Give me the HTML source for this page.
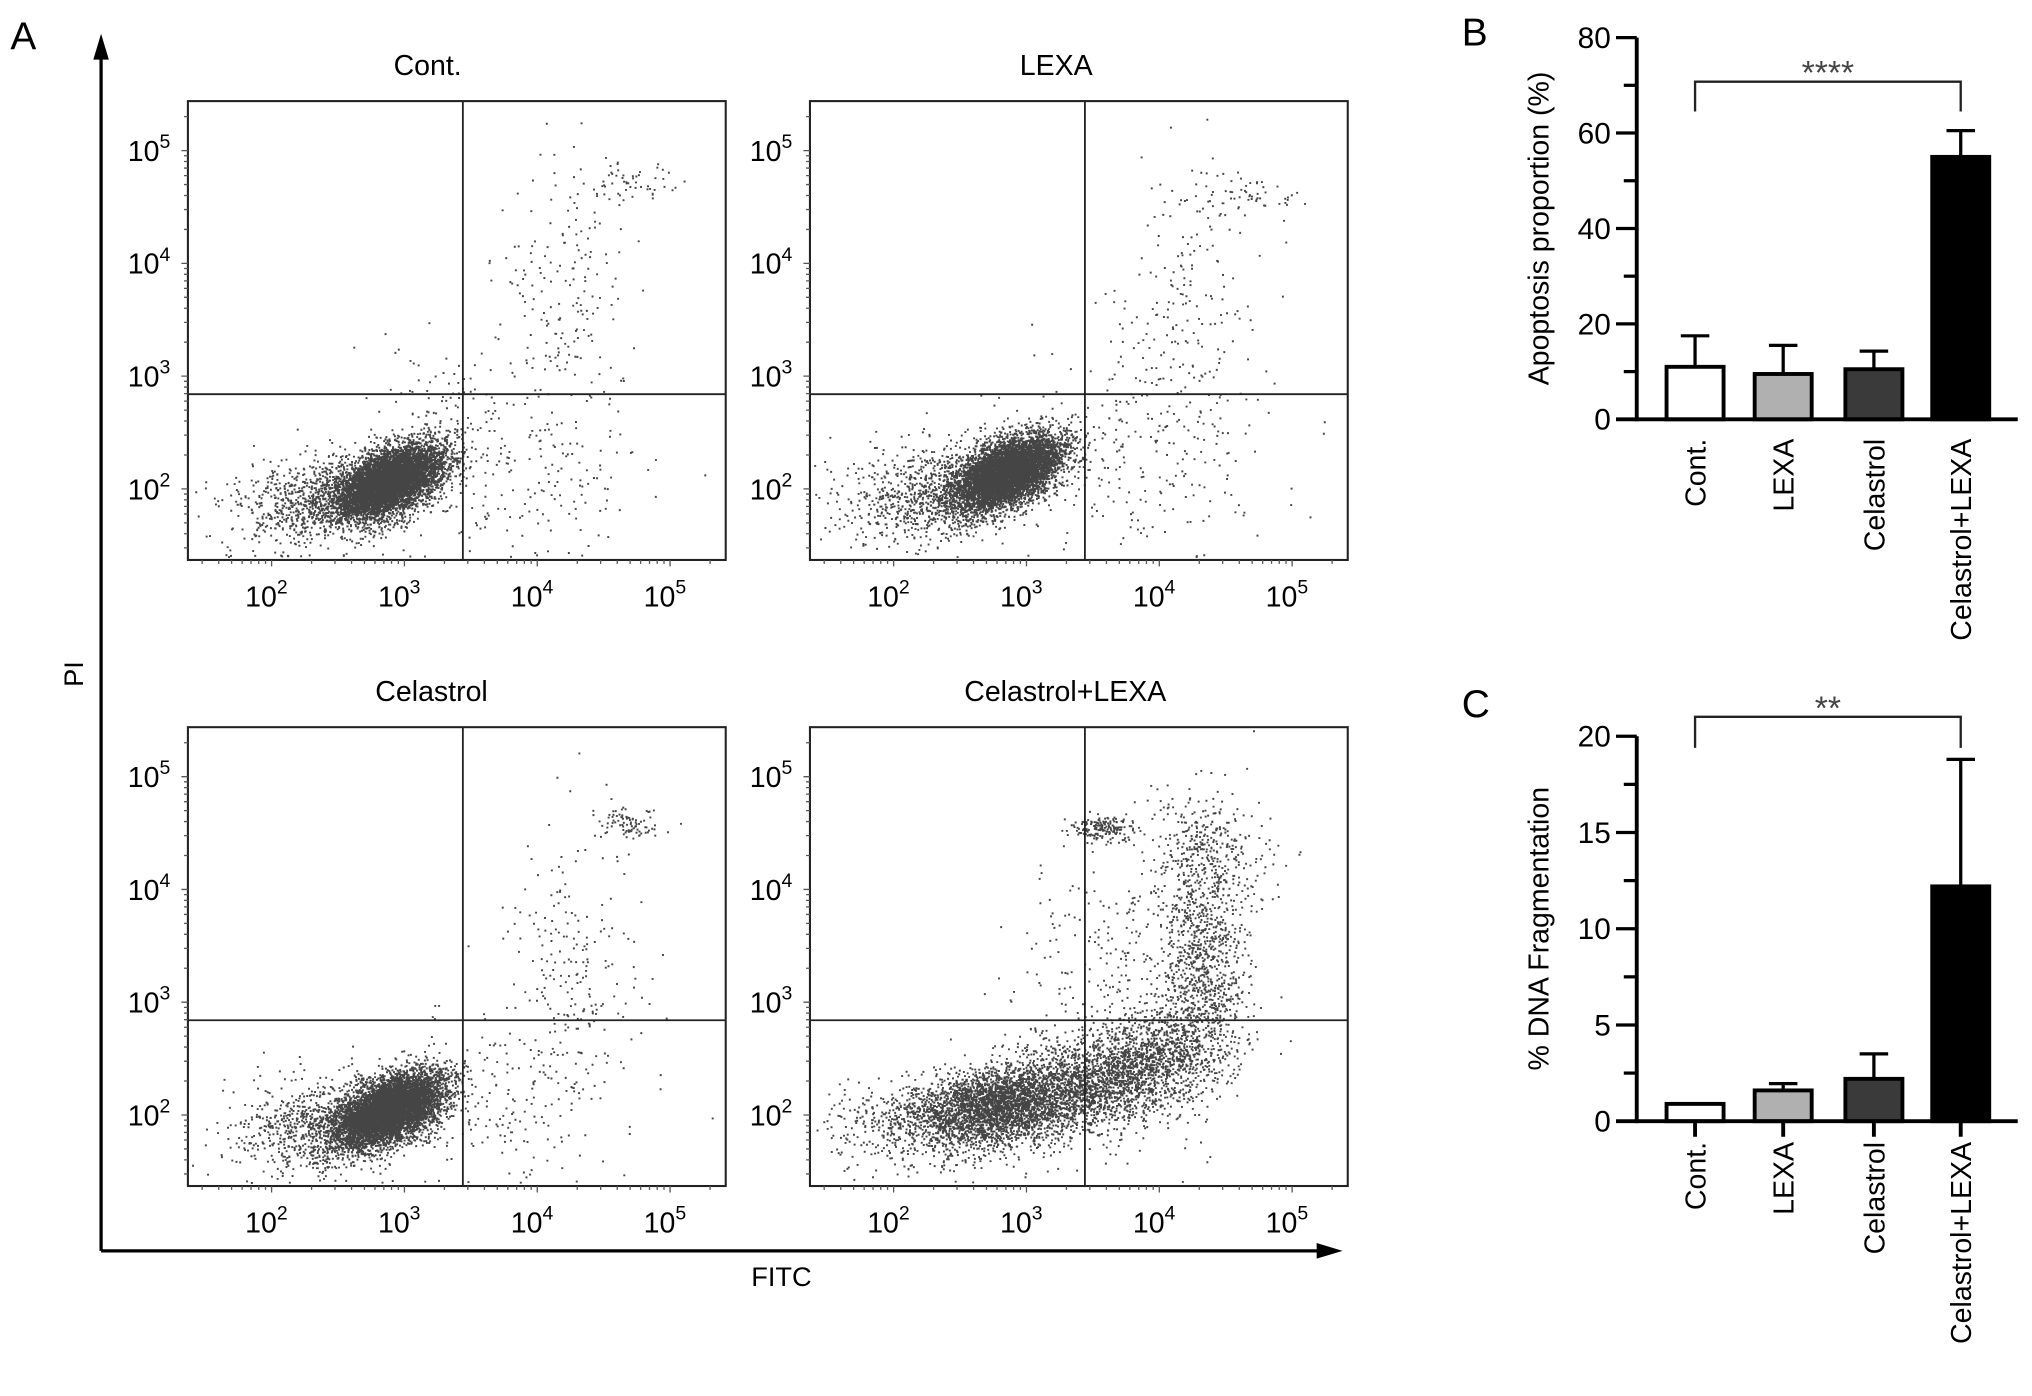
<!DOCTYPE html>
<html><head><meta charset="utf-8"><style>
html,body{margin:0;padding:0;background:#fff;}
svg{display:block;font-family:"Liberation Sans",Arial,sans-serif;}
</style></head><body>
<svg id="fig" width="2032" height="1396" viewBox="0 0 1568 1077" preserveAspectRatio="none">
<g id="panelA">
<text x="8" y="38" font-size="30">A</text>
<line x1="78" y1="965" x2="78" y2="40" stroke="#000" stroke-width="2.5"/>
<polygon points="78,26 72,46 84,46" fill="#000"/>
<line x1="78" y1="965" x2="1020" y2="965" stroke="#000" stroke-width="2.5"/>
<polygon points="1036,965 1016,959 1016,971" fill="#000"/>
<text x="64" y="520" font-size="21" transform="rotate(-90 64 520)" text-anchor="middle">PI</text>
<text x="603" y="992" font-size="21" text-anchor="middle">FITC</text>
</g>
<g id="panelB"></g>
<g id="panelC"></g>
</svg>
<script>
// ---------- Flow cytometry data (log10 cluster parameters) ----------
const panelTitles = ["Cont.", "LEXA", "Celastrol", "Celastrol+LEXA"];
// each cluster: [centerLogX, centerLogY, sdX, sdY, count, correlation]
const contClusters = [[2.88,2.07,0.2,0.16,6800,0.5],[2.35,1.9,0.33,0.2,900,0.2],[3.8,2.2,0.5,0.4,220,0],[4.2,3.7,0.25,0.55,170,0],[4.65,4.7,0.18,0.1,60,0],[3.3,2.8,0.25,0.3,80,0]];
const lexaClusters = [[2.85,2.15,0.2,0.16,6800,0.5],[2.3,1.95,0.33,0.22,900,0.2],[3.8,2.3,0.5,0.45,250,0],[4.2,3.6,0.3,0.6,180,0],[4.6,4.6,0.2,0.1,60,0]];
const celaClusters = [[2.88,2.05,0.2,0.16,6800,0.5],[2.35,1.9,0.33,0.2,900,0.2],[3.8,2.2,0.45,0.4,200,0],[4.25,3.4,0.25,0.6,200,0],[4.65,4.6,0.13,0.07,90,0]];
const clClusters = [[2.7,2.07,0.3,0.17,2600,0.2],[3.35,2.25,0.33,0.22,1800,0.3],[3.95,2.5,0.28,0.26,1200,0.3],[4.32,3.3,0.16,0.5,900,0],[4.35,4.3,0.22,0.3,380,0],[3.58,4.55,0.12,0.06,170,0],[3.7,3.3,0.4,0.6,250,0],[2.2,1.9,0.4,0.2,500,0]];
const clusterSets = [contClusters, lexaClusters, celaClusters, clClusters];
const decadeTicks = [2,3,4,5];
const gateLogX = 3.44, gateLogY = 2.84;

// ---------- Bar chart data ----------
const barCategories = ["Cont.", "LEXA", "Celastrol", "Celastrol+LEXA"];
const apoptosisValues = [11, 9.5, 10.5, 55];
const apoptosisErrors = [6.5, 6, 3.8, 5.5];
const apoptosisTicks = [0,20,40,60,80];
const dnaValues = [0.9, 1.6, 2.2, 12.2];
const dnaErrors = [0, 0.35, 1.3, 6.6];
const dnaTicks = [0,5,10,15,20];
const barFills = ["#ffffff","#b0b0b0","#3a3a3a","#000000"];

const NS = "http://www.w3.org/2000/svg";
function mk(tag, attrs, parent){const e=document.createElementNS(NS,tag);for(const k in attrs)e.setAttribute(k,attrs[k]);parent.appendChild(e);return e;}

let seed = 12345;
function rnd(){seed|=0;seed=seed+0x6D2B79F5|0;let t=Math.imul(seed^seed>>>15,1|seed);t=t+Math.imul(t^t>>>7,61|t)^t;return((t^t>>>14)>>>0)/4294967296;}
function gauss(){let u=rnd()||1e-9,v=rnd();return Math.sqrt(-2*Math.log(u))*Math.cos(2*Math.PI*v);}

const A = document.getElementById('panelA');
const boxes = [[145,78],[625,78],[145,561],[625,561]];
const titleX = [330,815,333,822];
const BW = 415, BH = 354, xmin = 1.37, xdec = 102.5, ydec = 87, ymin = 1.37;
panelTitles.forEach((title,i)=>{
  const [bx,by] = boxes[i];
  const g = mk('g',{},A);
  
  
  const sx = v => bx + (v - xmin)*xdec;
  const sy = v => by + BH - (v - ymin)*ydec;
  const t = mk('text',{x:titleX[i],y:by-20,'font-size':22,'text-anchor':'middle'},g);
  t.textContent = title;
  
  
  let d = "";
  clusterSets[i].forEach(c=>{
    const [cx,cy,sdx,sdy,n,r]=c;
    for(let k=0;k<n;k++){
      const a=gauss(), b=gauss();
      let lx = cx + sdx*a, ly = cy + sdy*(r*a + Math.sqrt(1-r*r)*b);
      let px = sx(lx), py = sy(ly);
      if(px<bx+1||px>bx+BW-2) continue;
      if(py>by+BH-3) py = by+BH-3 - rnd()*2;
      if(py<by+1) continue;
      d += "M"+px.toFixed(1)+" "+py.toFixed(1)+"h1.5v1.5h-1.5z";
    }
  });
  const p = mk('path',{d:d,fill:'#454545'},g);
  
  
  const box = mk('rect',{x:bx,y:by,width:BW,height:BH,fill:'none',stroke:'#222','stroke-width':1.6},g);
  
  
  const gv = mk('line',{x1:sx(gateLogX),x2:sx(gateLogX),y1:by,y2:by+BH,stroke:'#222','stroke-width':1.4},g);
  
  
  const gh = mk('line',{x1:bx,x2:bx+BW,y1:sy(gateLogY),y2:sy(gateLogY),stroke:'#222','stroke-width':1.4},g);
  
  
  let td="";
  for(let dd=1;dd<=5;dd++){for(let m=1;m<10;m++){const lv=dd+Math.log10(m);
    const X=sx(lv); if(X>bx&&X<bx+BW) td+="M"+X+" "+(by+BH)+"v"+(m==1?5:3);
    const Y=sy(lv); if(Y>by&&Y<by+BH) td+="M"+bx+" "+Y+"h"+(m==1?-5:-3);}}
  mk('path',{d:td,stroke:'#555','stroke-width':1,fill:'none'},g);
  decadeTicks.forEach(v=>{
    const tx = mk('text',{x:sx(v)-4,y:by+BH+36,'font-size':22,'text-anchor':'middle'},g);
    tx.innerHTML = '10<tspan dy="-10" font-size="15">'+v+'</tspan>';
    
    
    const ty = mk('text',{x:bx-30,y:sy(v)+8,'font-size':22,'text-anchor':'middle'},g);
    ty.innerHTML = '10<tspan dy="-10" font-size="15">'+v+'</tspan>';
    
    
  });
});

// ---------- Bar charts ----------
const barCenters = [1308,1376,1446,1513], barW = 44, axisX = 1263, axisEnd = 1557;
function barChart(gid, letter, letterY, values, errors, ticks, vmax, y0, yTop, ytitle, minorStep, bracketY, bracketDrop, stars, bottomTicks){
  const G = document.getElementById(gid);
  const ys = v => y0 - (v/vmax)*(y0-yTop);
  const L = mk('text',{x:1128,y:letterY,'font-size':30},G); L.textContent=letter;
   
  values.forEach((v,i)=>{
    const bar = mk('rect',{x:barCenters[i]-barW/2,y:ys(v),width:barW,height:y0-ys(v),fill:barFills[i],stroke:'#000','stroke-width':3},G);
    
    
    if(errors[i]>0){
      const e = mk('path',{d:"M"+barCenters[i]+" "+ys(v)+"V"+ys(v+errors[i])+"M"+(barCenters[i]-11)+" "+ys(v+errors[i])+"h22",stroke:'#000','stroke-width':2.5,fill:'none'},G);
      
      
    }
    const c = mk('text',{x:0,y:0,'font-size':22,'text-anchor':'end',transform:'translate('+(barCenters[i]+8)+','+(y0+(bottomTicks?16:15))+') rotate(-90)'},G);
    c.textContent = barCategories[i];
    
    
    if(bottomTicks) mk('line',{x1:barCenters[i],x2:barCenters[i],y1:y0,y2:y0+12,stroke:'#000','stroke-width':3},G);
  });
  mk('line',{x1:axisX,x2:axisX,y1:y0+1.5,y2:yTop,stroke:'#000','stroke-width':3},G);
  mk('line',{x1:axisX-16,x2:axisEnd,y1:y0,y2:y0,stroke:'#000','stroke-width':3},G);
  for(let v=0; v<=vmax+1e-9; v+=minorStep){
    mk('line',{x1:axisX-(Math.abs(v%(minorStep*2))<1e-9?16:10),x2:axisX,y1:ys(v),y2:ys(v),stroke:'#000','stroke-width':2.5},G);
  }
  ticks.forEach(v=>{
    const t = mk('text',{x:axisX-20,y:ys(v)+8,'font-size':23,'text-anchor':'end'},G);
    t.textContent = v;
    
    
  });
  const yt = mk('text',{x:0,y:0,'font-size':22,'text-anchor':'middle',transform:'translate(1195,'+((y0+yTop)/2)+') rotate(-90)'},G);
  yt.textContent = ytitle;
  
  
  const br = mk('path',{d:"M"+barCenters[0]+" "+(bracketY+bracketDrop)+"V"+bracketY+"H"+barCenters[3]+"V"+(bracketY+bracketDrop),stroke:'#222','stroke-width':1.8,fill:'none'},G);
  
  
  const st = mk('text',{x:(barCenters[0]+barCenters[3])/2,y:bracketY+2,'font-size':26,'text-anchor':'middle',fill:'#444'},G);
  st.textContent = stars;
  
  
}
barChart('panelB','B',35,apoptosisValues,apoptosisErrors,apoptosisTicks,80,323.5,29,'Apoptosis proportion (%)',10,63,23,'****',false);
barChart('panelC','C',553,dnaValues,dnaErrors,dnaTicks,20,865,568,'% DNA Fragmentation',2.5,553,24,'**',true);
</script>
</body></html>
